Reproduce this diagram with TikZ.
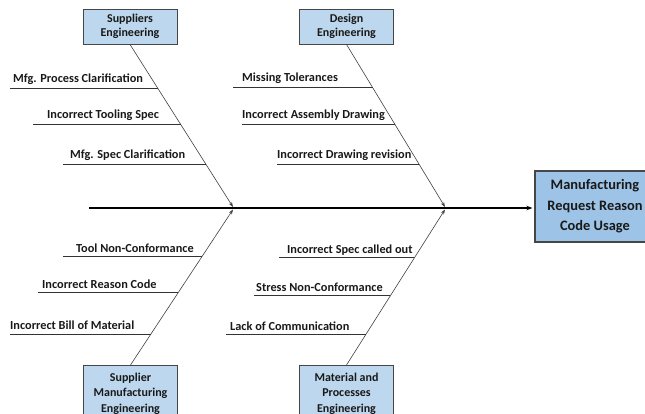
\documentclass[tikz,border=0pt]{standalone}
\usepackage{fontspec}
\setmainfont{Carlito}
\usetikzlibrary{arrows.meta,positioning}
\definecolor{boxblue}{RGB}{189,215,238}
\definecolor{effblue}{RGB}{157,195,230}
\definecolor{boxedge}{RGB}{70,70,70}

\begin{document}
\begin{tikzpicture}[x=1pt, y=-1pt,
  catbox/.style={draw=boxedge, fill=boxblue, line width=0.9pt, align=center,
    font=\bfseries\fontsize{12}{14.5}\selectfont, text=black!90,
    minimum width=94pt, minimum height=35pt, inner sep=0pt},
  effbox/.style={catbox, fill=effblue, line width=1.3pt,
    font=\bfseries\fontsize{14.4}{20.5}\selectfont,
    minimum width=120pt, minimum height=71pt},
  bone/.style={draw=black!75, line width=0.6pt, -{Stealth[length=5pt,width=3.5pt]}},
  sub/.style={draw=black!80, line width=0.8pt},
  cause/.style={anchor=base west, inner sep=0pt, text=black!90,
    font=\bfseries\fontsize{12.3}{14}\selectfont}]
  \useasboundingbox (0,0) rectangle (645,414);

  % Category boxes
  \node[catbox] (supeng) at (130,26.5) {Suppliers\\Engineering};
  \node[catbox] (deseng) at (346.5,26.5) {Design\\Engineering};
  \node[catbox, anchor=north, minimum height=56pt, font=\bfseries\fontsize{12}{15.5}\selectfont] (supmfg) at (130.5,365) {Supplier\\Manufacturing\\Engineering};
  \node[catbox, anchor=north, minimum height=56pt, font=\bfseries\fontsize{12}{15.5}\selectfont] (matproc) at (346.5,365) {Material and\\Processes\\Engineering};

  % Effect
  \node[effbox] (effect) at (595,206.5) {Manufacturing\\Request Reason\\Code Usage};

  % Spine
  \coordinate (tail) at (89,208);
  \draw[line width=1.4pt, -{Stealth[length=6pt,width=4.5pt]}] (tail) -- ([xshift=-2pt]effect.west |- tail);
  \coordinate (jA) at (233,207);
  \coordinate (jC) at (233,209.5);
  \coordinate (jB) at (445,207);
  \coordinate (jD) at (445,209.5);

  % Bones
  \draw[bone] (supeng.south) -- (jA);
  \draw[bone] (deseng.south) -- (jB);
  \draw[bone] (supmfg.north) -- (jC);
  \draw[bone] (matproc.north) -- (jD);

  % Points on the bones
  \path (supeng.south) -- (jA) coordinate[pos=.270] (a1) coordinate[pos=.493] (a2) coordinate[pos=.740] (a3);
  \path (deseng.south) -- (jB) coordinate[pos=.264] (b1) coordinate[pos=.493] (b2) coordinate[pos=.740] (b3);
  \path (supmfg.north) -- (jC) coordinate[pos=.697] (c1) coordinate[pos=.465] (c2) coordinate[pos=.200] (c3);
  \path (matproc.north) -- (jD) coordinate[pos=.690] (d1) coordinate[pos=.445] (d2) coordinate[pos=.194] (d3);

  % Suppliers Engineering
  \node[cause] (a1t) at (13,83) {Mfg. Process Clarification};
  \node[cause] (a2t) at (47,119) {Incorrect Tooling Spec};
  \node[cause] (a3t) at (70,159) {Mfg. Spec Clarification};
  \draw[sub] (a1) -- (a1 -| 10,0);
  \draw[sub] (a2) -- (a2 -| 33,0);
  \draw[sub] (a3) -- (a3 -| 63,0);

  % Design Engineering
  \node[cause] (b1t) at (242,82) {Missing Tolerances};
  \node[cause] (b2t) at (242,119) {Incorrect Assembly Drawing};
  \node[cause] (b3t) at (277,159) {Incorrect Drawing revision};
  \draw[sub] (b1) -- (b1 -| 233,0);
  \draw[sub] (b2) -- (b2 -| 242,0);
  \draw[sub] (b3) -- (b3 -| 277,0);

  % Supplier Manufacturing Engineering
  \node[cause] (c1t) at (76,252) {Tool Non-Conformance};
  \node[cause] (c2t) at (42,288) {Incorrect Reason Code};
  \node[cause] (c3t) at (10,329) {Incorrect Bill of Material};
  \draw[sub] (c1) -- (c1 -| 63,0);
  \draw[sub] (c2) -- (c2 -| 38,0);
  \draw[sub] (c3) -- (c3 -| 10,0);

  % Material and Processes Engineering
  \node[cause] (d1t) at (287,253) {Incorrect Spec called out};
  \node[cause] (d2t) at (256,291) {Stress Non-Conformance};
  \node[cause] (d3t) at (230,330) {Lack of Communication};
  \draw[sub] (d1) -- (d1 -| 279,0);
  \draw[sub] (d2) -- (d2 -| 254,0);
  \draw[sub] (d3) -- (d3 -| 226,0);
\end{tikzpicture}
\end{document}
